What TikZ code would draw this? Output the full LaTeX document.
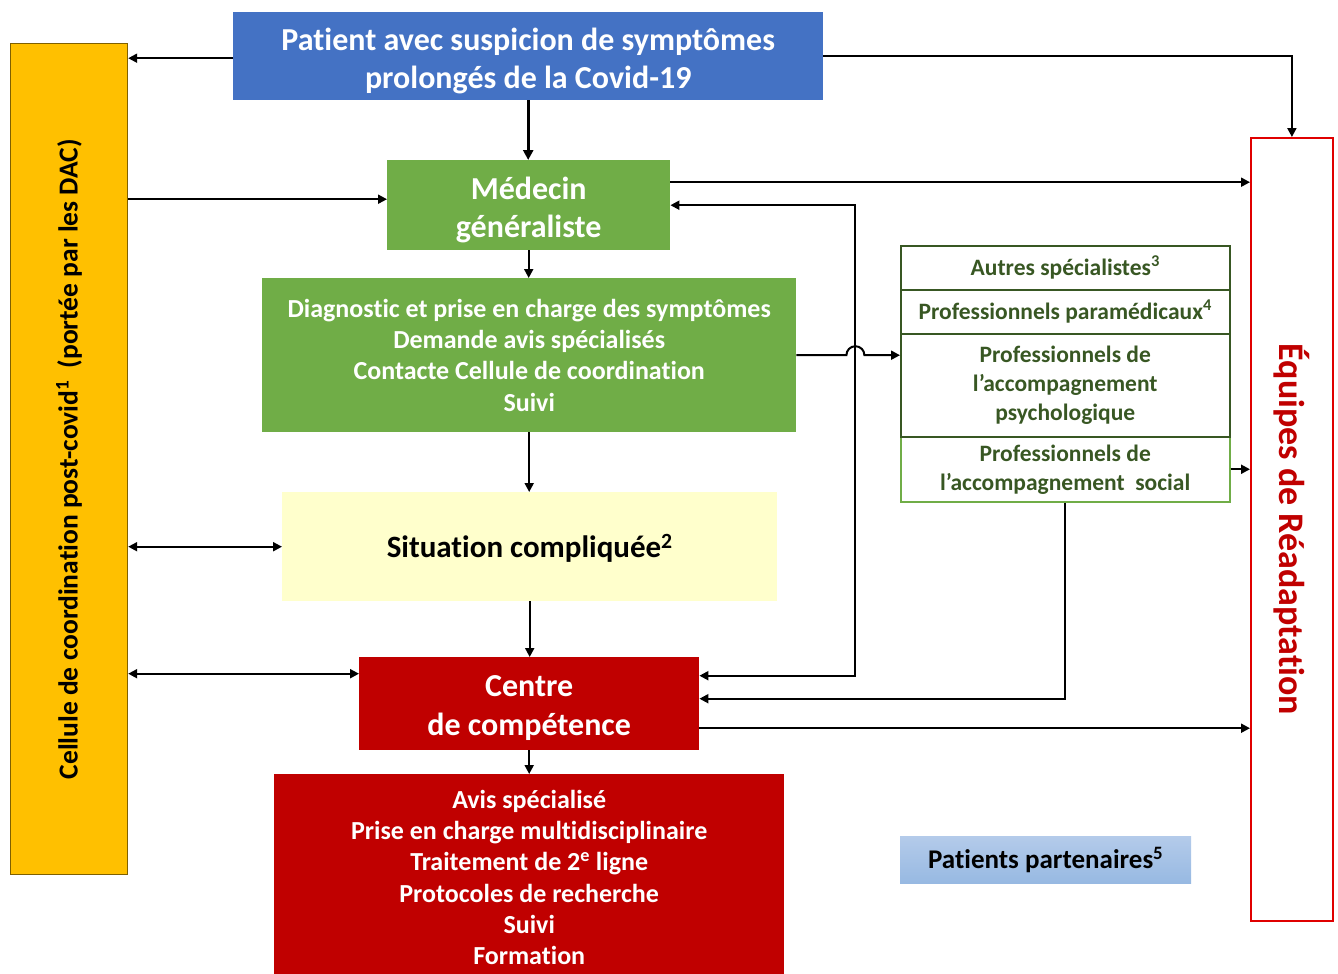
\documentclass[tikz,border=0pt]{standalone}
\usepackage{fontspec}
\setmainfont{Carlito}[Ligatures=NoCommon]
\usetikzlibrary{arrows.meta}
\definecolor{cblue}{HTML}{4472C4}
\definecolor{cgreen}{HTML}{70AD47}
\definecolor{cdkgreen}{HTML}{385723}
\definecolor{cred}{HTML}{C00000}
\definecolor{cyel}{HTML}{FFC000}
\definecolor{cyelb}{HTML}{7F6000}
\definecolor{clight}{HTML}{FFFFCC}
\definecolor{cpatA}{HTML}{B4CBEA}
\definecolor{cpatB}{HTML}{97B9E2}
\definecolor{cbord}{HTML}{E00000}
\newcommand{\mytopstrut}[1]{\rule{0pt}{#1}}
\begin{document}
\begin{tikzpicture}[x=1pt,y=-1pt,
  box/.style={anchor=north west, inner sep=0pt, align=center},
  arr/.style={line width=2pt, -{Triangle[length=9pt,width=9pt]}},
  darr/.style={line width=2pt, {Triangle[length=9pt,width=9pt]}-{Triangle[length=9pt,width=9pt]}},
  big/.style={font={\fontsize{32}{38.5}\selectfont\bfseries}},
  mid/.style={font={\fontsize{26}{31.3}\selectfont\bfseries}},
  small/.style={font={\fontsize{23.5}{29}\selectfont\bfseries}, text=cdkgreen}]
\useasboundingbox (0,0) rectangle (1338,974);

% Left yellow bar
\node[box, fill=cyel, draw=cyelb, line width=1.2pt, minimum width=117pt, minimum height=831pt,
  font={\fontsize{27.5}{30}\selectfont\bfseries}] (yel) at (10,43)
  {\rotatebox{90}{Cellule de coordination post-covid\textsuperscript{1}\ \ (portée par les DAC)}};

% Top blue box
\node[box, fill=cblue, text=white, minimum width=590pt, minimum height=88pt, big] (blue) at (233,12)
  {\mytopstrut{32pt}Patient avec suspicion de symptômes\\prolongés de la Covid-19};

% Médecin généraliste
\node[box, fill=cgreen, text=white, minimum width=283pt, minimum height=90pt, big] (med) at (387,160)
  {\mytopstrut{32pt}Médecin\\généraliste};

% Diagnostic
\node[box, fill=cgreen, text=white, minimum width=534pt, minimum height=154pt, mid] (diag) at (262,278)
  {Diagnostic et prise en charge des symptômes\\Demande avis spécialisés\\Contacte Cellule de coordination\\Suivi};

% Situation compliquée
\node[box, fill=clight, text=black, minimum width=495pt, minimum height=109pt,
  font={\fontsize{31}{36}\selectfont\bfseries}] (sit) at (282,492)
  {\mytopstrut{27pt}Situation compliquée\textsuperscript{2}};

% Centre de compétence
\node[box, fill=cred, text=white, minimum width=340pt, minimum height=93pt, big] (centre) at (359,657)
  {\mytopstrut{30pt}Centre\\de compétence};

% Bottom red box
\node[box, fill=cred, text=white, minimum width=510pt, minimum height=200pt, mid] (bot) at (274,774)
  {\mytopstrut{25pt}Avis spécialisé\\Prise en charge multidisciplinaire\\Traitement de 2\textsuperscript{e} ligne\\Protocoles de recherche\\Suivi\\Formation};

% Right stack
\node[box, draw=cgreen, line width=1.5pt, minimum width=329pt, minimum height=65pt, small] (soc) at (900,436)
  {Professionnels de\\l’accompagnement~ social};
\node[box, draw=cdkgreen, line width=1.5pt, minimum width=329pt, minimum height=103pt, small] (psy) at (900,333)
  {Professionnels de\\l’accompagnement\\psychologique};
\node[box, draw=cdkgreen, line width=1.5pt, minimum width=329pt, minimum height=44pt, small] (para) at (900,289)
  {Professionnels paramédicaux\textsuperscript{4}};
\node[box, draw=cdkgreen, line width=1.5pt, minimum width=329pt, minimum height=44pt, small] (aut) at (900,245)
  {Autres spécialistes\textsuperscript{3}};

% Équipes de Réadaptation
\node[box, draw=cbord, line width=1.8pt, fill=white, text=cred, minimum width=82pt, minimum height=783pt,
  font={\fontsize{36}{40}\selectfont\bfseries}] (eq) at (1250,137)
  {\rotatebox{-90}{Équipes de Réadaptation}};

% Patients partenaires
\node[box, top color=cpatA, bottom color=cpatB, text=black, minimum width=291pt, minimum height=47pt,
  font={\fontsize{27}{30}\selectfont\bfseries}] (pat) at (900,836)
  {Patients partenaires\textsuperscript{5}};

% Connectors
\draw[arr] ([yshift=-2pt]blue.west) -- ([yshift=-2pt]blue.west -| yel.east);
\draw[arr] (blue.east) -| (eq.north);
\draw[line width=3pt, -{Triangle[length=10pt,width=10pt]}] (blue.south) -- (blue.south |- med.north);
\draw[arr] ([yshift=6pt]med.west -| yel.east) -- ([yshift=6pt]med.west);
\draw[arr] ([yshift=23pt]med.east) -- ([yshift=23pt]med.east -| eq.west);
\draw[darr] ([yshift=28pt]centre.east) -- ++(156,0) |- (med.east);
\draw[arr] (diag.east) -- ++(50,0) arc[start angle=180, end angle=0, radius=9pt] -- (diag.east -| psy.west);
\draw[arr] (med.south) -- (med.south |- diag.north);
\draw[arr] (diag.south) -- (diag.south |- sit.north);
\draw[darr] (sit.west -| yel.east) -- (sit.west);
\draw[arr] (sit.south) -- (sit.south |- centre.north);
\draw[darr] ([yshift=30pt]centre.west -| yel.east) -- ([yshift=30pt]centre.west);
\draw[arr] (soc.south) |- ([yshift=5pt]centre.east);
\draw[arr] ([yshift=-24.5pt]centre.east) -- ([yshift=-24.5pt]centre.east -| eq.west);
\draw[arr] (centre.south) -- (centre.south |- bot.north);
\draw[arr] (soc.east) -- (soc.east -| eq.west);
\end{tikzpicture}
\end{document}
